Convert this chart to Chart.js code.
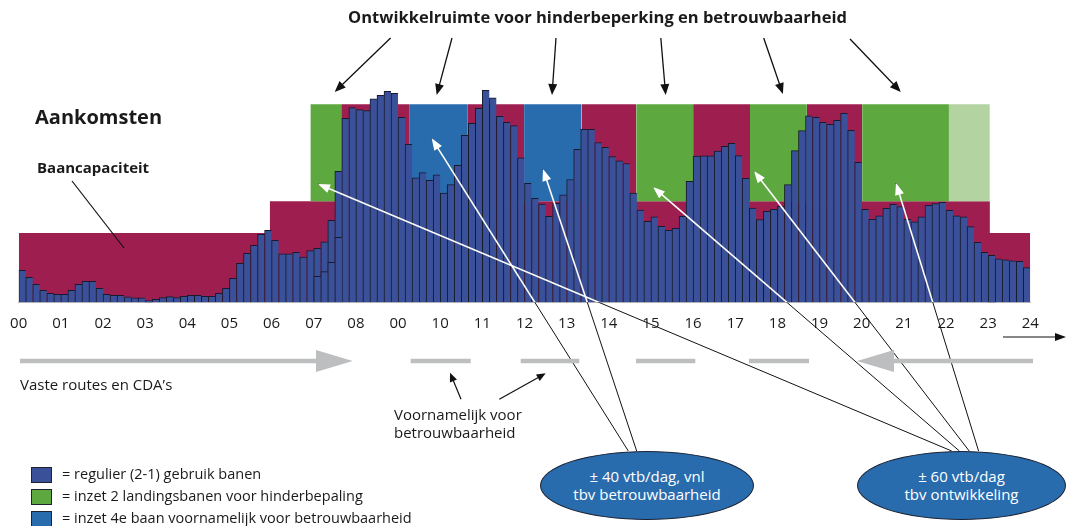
<!DOCTYPE html>
<html>
<head>
<meta charset="utf-8">
<script src="https://cdn.jsdelivr.net/npm/chart.js@4.4.1/dist/chart.umd.min.js"></script>
<style>
html,body{margin:0;padding:0;background:#fff;}
#wrap{position:relative;width:1068px;height:526px;overflow:hidden;font-family:"Open Sans",sans-serif;color:#1a1a1a;}
#c{position:absolute;left:0;top:0;}
.t{position:absolute;white-space:nowrap;line-height:1;}
.b{font-weight:700;}
.sq{position:absolute;left:31px;width:19px;height:14px;border:1px solid #1f2330;}
.ell{position:absolute;top:451px;height:67px;border-radius:50%;background:#286CAE;border:1px solid #1b2233;color:#fff;font-size:15px;line-height:17.5px;text-align:center;display:flex;align-items:center;justify-content:center;}
</style>
</head>
<body>
<div id="wrap">
<canvas id="c" width="1068" height="526"></canvas>

<div class="t b" style="left:597.5px;top:9px;font-size:16.5px;transform:translateX(-50%);">Ontwikkelruimte voor hinderbeperking en betrouwbaarheid</div>
<div class="t b" style="left:35px;top:106.5px;font-size:20px;">Aankomsten</div>
<div class="t b" style="left:37px;top:160px;font-size:15px;">Baancapaciteit</div>
<div class="t" style="left:20px;top:377px;font-size:15px;">Vaste routes en CDA’s</div>
<div class="t" style="left:394px;top:407px;font-size:15px;">Voornamelijk voor</div>
<div class="t" style="left:394px;top:425px;font-size:15px;">betrouwbaarheid</div>

<div class="sq" style="top:467px;background:#3A5098;"></div>
<div class="sq" style="top:489px;background:#5DA83F;"></div>
<div class="sq" style="top:511px;background:#286CAE;"></div>
<div class="t" style="left:62px;top:466.5px;font-size:14.5px;">= regulier (2-1) gebruik banen</div>
<div class="t" style="left:62px;top:488.5px;font-size:14.5px;">= inzet 2 landingsbanen voor hinderbepaling</div>
<div class="t" style="left:62px;top:510.5px;font-size:14.5px;">= inzet 4e baan voornamelijk voor betrouwbaarheid</div>

<div class="ell" style="left:540px;width:212px;">± 40 vtb/dag, vnl<br>tbv betrouwbaarheid</div>
<div class="ell" style="left:857px;width:207px;">± 60 vtb/dag<br>tbv ontwikkeling</div>
</div>

<script>
// ---- data ----
const tickLabels = ['00','01','02','03','04','05','06','07','08','00','10','11','12','13','14','15','16','17','18','19','20','21','22','23','24'];

const slotLabels = [];
for (let h = 0; h < 24; h++) for (let m = 0; m < 60; m += 10)
  slotLabels.push(String(h).padStart(2,'0') + ':' + String(m).padStart(2,'0'));

// arrivals per 10-minute slot (regular 2-1 runway use)
const arrivals = [
  16.2,12.6,9.1,6.1,4.5,4.0,
  4.0,6.1,9.1,10.6,10.6,7.1,
  4.0,3.5,3.5,2.8,2.2,2.2,
  0.9,1.5,2.4,2.9,2.4,3.0,
  3.5,3.5,3.0,3.0,4.5,7.1,
  12.1,19.7,24.7,28.8,34.3,36.4,
  31.3,24.5,24.5,25.3,22.9,26.1,
  27.3,30.6,41.4,66.2,92.9,98.3,
  97.3,96.8,102.8,104.5,106.6,105.6,
  93.4,79.8,62.9,65.5,61.6,64.4,
  55.1,59.4,69.2,84.3,90.4,98.0,
  107.1,103.3,93.9,90.9,89.2,73.0,
  60.1,52.5,49.6,43.4,50.0,54.3,
  62.0,77.3,87.4,87.4,80.7,78.3,
  73.6,71.4,70.1,55.2,46.6,40.9,
  43.2,38.4,36.4,37.4,43.4,61.1,
  73.9,74.0,74.0,76.4,78.8,80.3,
  74.1,62.6,47.6,41.8,45.9,47.0,
  48.5,59.4,76.6,86.7,94.2,93.4,
  90.9,89.9,91.9,95.5,86.9,70.7,
  47.0,41.9,43.7,47.5,49.5,48.3,
  41.9,40.7,43.2,49.0,49.8,50.5,
  46.5,43.7,43.2,38.2,30.3,25.3,
  23.7,22.0,21.5,21.0,20.7,17.5
];

// overlapping inner bars (07:00-07:30)
const overlapSlots = ['07:00','07:10','07:20','07:30'];
const overlapValues = [13.1, 15.5, 20.2, 32.8];

// runway capacity (base), step values from given hour
const baseCapHours = [0, 5.96, 23.04, 24];
const baseCapLevels = [35, 51, 35, 35];

// extra capacity blocks
const blockStart = [6.92, 7.65, 9.28, 10.64, 11.99, 13.35, 14.65, 16.0, 17.35, 18.7, 20.01, 22.07];
const blockEnd   = [7.65, 9.28, 10.64, 11.99, 13.35, 14.65, 16.0, 17.35, 18.7, 20.01, 22.07, 23.04];
const blockKind  = ['hinder','regulier','betrouw','regulier','betrouw','regulier','hinder','regulier','hinder','regulier','hinder','hinderLicht'];
const blockTop = 100;
const blockBottom = 51;

// ---- styles ----
const COLORS = {
  bar: '#3A5098', barBorder: '#161a2c',
  regulier: '#9E1E50', hinder: '#5DA83F', betrouw: '#286CAE', hinderLicht: '#B3D4A1'
};

const datasets = [];
datasets.push({
  type: 'bar', label: 'Aankomsten', data: arrivals, xAxisID: 'x', yAxisID: 'y',
  backgroundColor: COLORS.bar, borderColor: COLORS.barBorder,
  borderWidth: {top: 1, left: 1, right: 0, bottom: 0}, borderSkipped: false,
  barPercentage: 1, categoryPercentage: 1, grouped: false, order: 0
});
datasets.push({
  type: 'bar', label: 'overlap', data: overlapSlots.map((s, i) => ({x: s, y: overlapValues[i]})),
  xAxisID: 'x', yAxisID: 'y',
  backgroundColor: COLORS.bar, borderColor: COLORS.barBorder,
  borderWidth: {top: 1, left: 1, right: 0, bottom: 0}, borderSkipped: false,
  barPercentage: 1, categoryPercentage: 1, grouped: false, order: -1
});
blockStart.forEach((s, i) => {
  datasets.push({
    type: 'line', label: 'blok' + i, xAxisID: 'xh', yAxisID: 'y',
    data: [{x: s, y: blockTop}, {x: blockEnd[i], y: blockTop}],
    stepped: true, pointRadius: 0, borderWidth: 0, borderColor: 'rgba(0,0,0,0)',
    backgroundColor: COLORS[blockKind[i]], fill: {value: blockBottom}, order: 5
  });
});
datasets.push({
  type: 'line', label: 'Baancapaciteit', xAxisID: 'xh', yAxisID: 'y',
  data: baseCapHours.map((h, i) => ({x: h, y: baseCapLevels[i]})),
  stepped: true, pointRadius: 0, borderWidth: 0, borderColor: 'rgba(0,0,0,0)',
  backgroundColor: COLORS.regulier, fill: 'origin', order: 10
});

// ---- annotation drawing ----
function arrow(c, x1, y1, x2, y2, color, lw, hl, hw) {
  const a = Math.atan2(y2 - y1, x2 - x1);
  const bx = x2 - hl * Math.cos(a), by = y2 - hl * Math.sin(a);
  c.strokeStyle = color; c.lineWidth = lw;
  c.beginPath(); c.moveTo(x1, y1); c.lineTo(bx + Math.cos(a), by + Math.sin(a)); c.stroke();
  c.fillStyle = color; c.beginPath(); c.moveTo(x2, y2);
  c.lineTo(bx + hw * Math.sin(a), by - hw * Math.cos(a));
  c.lineTo(bx - hw * Math.sin(a), by + hw * Math.cos(a));
  c.closePath(); c.fill();
}
function line(c, x1, y1, x2, y2, color, lw) {
  c.strokeStyle = color; c.lineWidth = lw;
  c.beginPath(); c.moveTo(x1, y1); c.lineTo(x2, y2); c.stroke();
}

const annotations = {
  id: 'annotations',
  afterDraw(chart) {
    const c = chart.ctx;
    const area = chart.chartArea;
    c.save();
    c.lineCap = 'butt';
    // title arrows
    [[390.6,38,334.7,92],[452,38,436.7,95],[556,38,552,95],[660.8,38,665.7,95],[763.7,38,782.9,94],[850,39,900.8,92]]
      .forEach(a => arrow(c, a[0], a[1], a[2], a[3], '#111', 1.3, 11, 4.5));
    // Baancapaciteit pointer
    line(c, 72, 181, 124, 248, '#111', 1.2);
    // ellipse pointers
    const ptrs = [[628.3,451,431.7,138.3],[636.7,451,543,169],[951.7,451,318,184],[959.4,451,653,187],[969.2,451,754,171],[978.6,451,896,183]];
    ptrs.forEach(p => line(c, p[0], p[1], p[2], p[3], '#111', 1));
    c.save();
    c.beginPath(); c.rect(0, 0, 1068, area.bottom); c.clip();
    ptrs.forEach(p => arrow(c, p[0], p[1], p[2], p[3], '#fff', 1.6, 12, 4.5));
    c.restore();
    // grey route arrows
    const g = '#BDBEC0';
    line(c, 20, 361, 318, 361, g, 4.5);
    c.fillStyle = g; c.beginPath(); c.moveTo(316, 350); c.lineTo(352.7, 361); c.lineTo(316, 372); c.closePath(); c.fill();
    [[410.7,470.7],[520.7,579.3],[636,695.3],[749,809]].forEach(d => line(c, d[0], 361, d[1], 361, g, 4.5));
    c.beginPath(); c.moveTo(857, 361); c.lineTo(894, 350); c.lineTo(894, 372); c.closePath(); c.fill();
    line(c, 893, 361, 1033, 361, g, 4.5);
    // small arrows
    arrow(c, 461, 399.3, 450, 372.7, '#111', 1.2, 9, 3.8);
    arrow(c, 499.3, 399.3, 545.7, 373.3, '#111', 1.2, 9, 3.8);
    // time axis arrow
    arrow(c, 1003, 337, 1066, 337, '#111', 1.2, 11, 4);
    c.restore();
  }
};

new Chart(document.getElementById('c'), {
  type: 'bar',
  data: {labels: slotLabels, datasets: datasets},
  options: {
    responsive: false, animation: false, devicePixelRatio: 1,
    layout: {padding: {left: 18.7, right: 37.7, top: 84.5, bottom: 183.7}},
    plugins: {legend: {display: false}, tooltip: {enabled: false}},
    scales: {
      x: {type: 'category', display: false, offset: true, grid: {display: false}},
      xh: {
        type: 'linear', position: 'bottom', min: 0, max: 24, offset: false,
        grid: {display: false, drawTicks: false},
        border: {display: true, color: '#b8b8b8', width: 1},
        ticks: {stepSize: 1, autoSkip: false, maxRotation: 0, padding: 9, color: '#1a1a1a',
                font: {family: 'Open Sans', size: 15, lineHeight: 1.6},
                callback: v => tickLabels[Math.round(v)]},
        afterFit: s => { s.height = 40; }
      },
      y: {type: 'linear', display: false, min: 0, max: 110}
    }
  },
  plugins: [annotations]
});
</script>
</body>
</html>
